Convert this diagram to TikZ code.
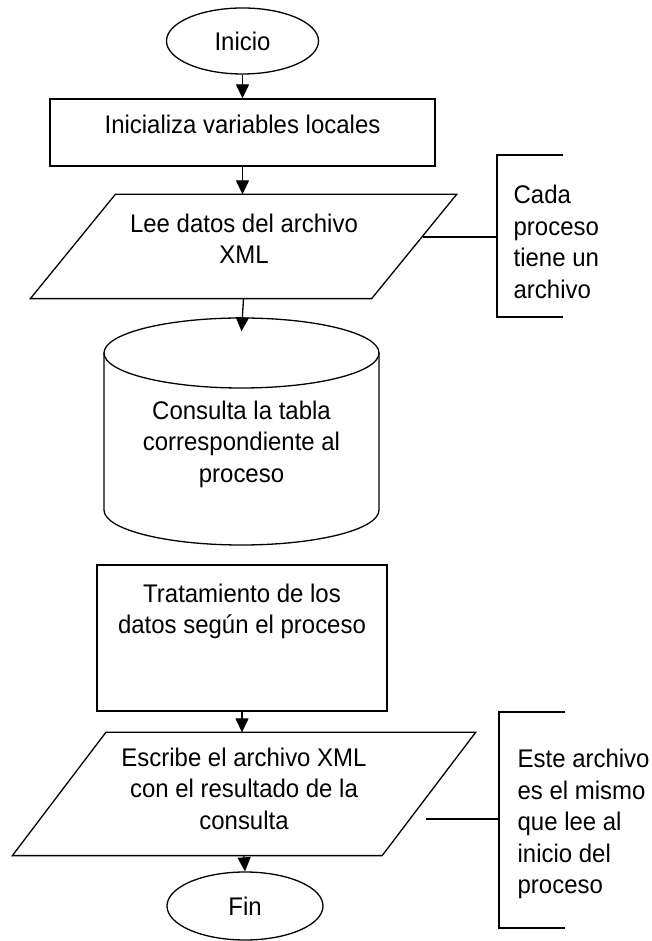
\documentclass[tikz,border=0pt]{standalone}
\usepackage{fontspec}
\setmainfont[FakeStretch=0.94]{Liberation Sans}
\usetikzlibrary{arrows.meta,calc,shapes.geometric}
\newcommand\mainsize{\fontsize{25.5}{31.5}\selectfont}
\begin{document}
\begin{tikzpicture}[x=1pt,y=1pt,line width=1.3pt,
  txt/.style={font=\mainsize, inner sep=0pt},
  term/.style={txt, ellipse, draw},
  procbox/.style={rectangle, draw, inner sep=0pt},
  zone/.style={rectangle, draw=none, inner sep=0pt},
  lbl/.style={txt, align=center},
  note/.style={txt, align=left, anchor=west},
  flow/.style={-{Triangle[width=13pt,length=14pt]}}]
\useasboundingbox[fill=white] (0,0) rectangle (652,941);

% Inicio
\node[term, minimum width=152pt, minimum height=66pt] (inicio) at (242.5,900) {Inicio};

% Inicializa variables locales
\node[procbox, minimum width=385pt, minimum height=67pt] (r1) at (242.5,808.5) {};
\node[lbl] (r1t) at (242.5,817) {Inicializa variables locales};

% Lee datos (parallelogram)
\node[zone, minimum width=425pt, minimum height=103pt] (p1) at (243.5,694.5) {};
\draw ($(p1.north west)+(85,0)$) -- (p1.north east) -- ($(p1.south east)-(85,0)$) -- (p1.south west) -- cycle;
\node[lbl] (p1t) at (244,702) {Lee datos del archivo\\XML};

% Cylinder
\node[zone, minimum width=275pt, minimum height=227pt] (cyl) at (241.5,509.5) {};
\draw (241.5,588) ellipse [x radius=137.5pt, y radius=35pt];
\draw (104,588) -- (104,431) arc[start angle=180, end angle=360, x radius=137.5pt, y radius=35pt] -- (379,588);
\node[lbl] (cylt) at (241.5,497) {Consulta la tabla\\correspondiente al\\proceso};

% Tratamiento
\node[procbox, minimum width=290pt, minimum height=146pt] (r2) at (242,303) {};
\node[lbl] (r2t) at (242,329.5) {Tratamiento de los\\datos según el proceso};

% Escribe (parallelogram)
\node[zone, minimum width=462pt, minimum height=122pt] (p2) at (244,147) {};
\draw ($(p2.north west)+(93.5,0)$) -- (p2.north east) -- ($(p2.south east)-(93.5,0)$) -- (p2.south west) -- cycle;
\node[lbl] (p2t) at (244,152.5) {Escribe el archivo XML\\con el resultado de la\\consulta};

% Fin
\node[term, minimum width=156pt, minimum height=68pt] (fin) at (245,35) {Fin};

% Annotation 1
\coordinate (b1top) at (563,786);
\coordinate (b1up) at (497,786);
\coordinate (b1mid) at (497,704);
\coordinate (b1low) at (497,624);
\coordinate (b1bot) at (563,624);
\coordinate (c1) at (423,704);
\draw (b1top) -- (b1up) -- (b1low) -- (b1bot);
\draw (c1) -- (b1mid);
\node[note] (b1t) at (513,699) {Cada\\proceso\\tiene un\\archivo};

% Annotation 2
\coordinate (b2top) at (565,229);
\coordinate (b2up) at (499,229);
\coordinate (b2mid) at (499,122);
\coordinate (b2low) at (499,13);
\coordinate (b2bot) at (565,13);
\coordinate (c2) at (426,122);
\draw (b2top) -- (b2up) -- (b2low) -- (b2bot);
\draw (c2) -- (b2mid);
\node[note] (b2t) at (517,117) {Este archivo\\es el mismo\\que lee al\\inicio del\\proceso};

% Flow arrows
\draw[flow] (inicio.south) -- (inicio.south |- r1.north);
\draw[flow] (r1.south) -- (r1.south |- p1.north);
\draw[flow] (p1.south) -- ($(cyl.north)+(0,-14)$);
\draw[flow] (r2.south) -- (r2.south |- p2.north);
\draw[flow] (p2.south) -- (fin.north);
\end{tikzpicture}
\end{document}
